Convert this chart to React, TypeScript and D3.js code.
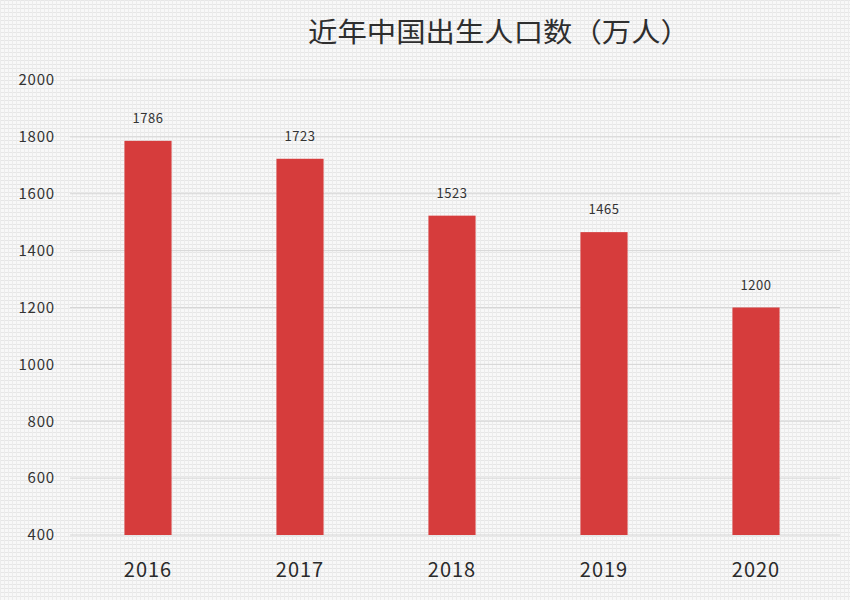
import React, { useEffect, useRef } from 'react';
import * as d3 from 'd3';

const years = ['2016', '2017', '2018', '2019', '2020'];
const births = [1786, 1723, 1523, 1465, 1200];
const yTicks = [400, 600, 800, 1000, 1200, 1400, 1600, 1800, 2000];
const title = '近年中国出生人口数（万人）';

const BirthChart = () => {
  const ref = useRef(null);

  useEffect(() => {
    if (!ref.current) return;
    const width = 850;
    const height = 600;

    const svg = d3.select(ref.current);
    svg.selectAll('*').remove();
    svg.attr('width', width).attr('height', height);

    // canvas-like paper texture
    const defs = svg.append('defs');
    const pat = defs.append('pattern')
      .attr('id', 'paper')
      .attr('width', 4)
      .attr('height', 4)
      .attr('patternUnits', 'userSpaceOnUse');
    pat.append('rect').attr('width', 4).attr('height', 4).attr('fill', '#f8f8f8');
    pat.append('path').attr('d', 'M0 0.5H4').attr('stroke', '#e6e6e6').attr('stroke-width', 1);
    pat.append('path').attr('d', 'M0.5 0V4').attr('stroke', '#ececec').attr('stroke-width', 1);

    svg.append('rect').attr('width', width).attr('height', height).attr('fill', 'url(#paper)');

    const x = d3.scaleBand()
      .domain(years)
      .range([72, 832])
      .paddingInner(0.69)
      .paddingOuter(0.345);

    const y = d3.scaleLinear().domain([400, 2000]).range([535, 80]);

    const font = '"Noto Sans CJK SC", "Noto Sans", sans-serif';

    // gridlines
    svg.append('g')
      .selectAll('line')
      .data(yTicks)
      .enter()
      .append('line')
      .attr('x1', 70)
      .attr('x2', 840)
      .attr('y1', d => y(d))
      .attr('y2', d => y(d))
      .attr('stroke', '#d6d6d6')
      .attr('stroke-width', 1);

    // y tick labels
    svg.append('g')
      .selectAll('text')
      .data(yTicks)
      .enter()
      .append('text')
      .attr('x', 55)
      .attr('y', d => y(d))
      .attr('dy', '0.35em')
      .attr('text-anchor', 'end')
      .attr('font-family', font)
      .attr('font-size', 15)
      .attr('letter-spacing', 0.8)
      .attr('fill', '#333')
      .text(d => d);

    const data = years.map((yr, i) => ({ year: yr, value: births[i] }));

    // bars
    svg.append('g')
      .selectAll('rect')
      .data(data)
      .enter()
      .append('rect')
      .attr('x', d => x(d.year))
      .attr('y', d => y(d.value))
      .attr('width', x.bandwidth())
      .attr('height', d => y(400) - y(d.value))
      .attr('fill', '#d63c3c');

    // value labels
    svg.append('g')
      .selectAll('text')
      .data(data)
      .enter()
      .append('text')
      .attr('x', d => x(d.year) + x.bandwidth() / 2)
      .attr('y', d => y(d.value) - 18)
      .attr('text-anchor', 'middle')
      .attr('font-family', font)
      .attr('font-size', 13)
      .attr('letter-spacing', 0.5)
      .attr('fill', '#333')
      .text(d => d.value);

    // x labels
    svg.append('g')
      .selectAll('text')
      .data(years)
      .enter()
      .append('text')
      .attr('x', d => x(d) + x.bandwidth() / 2)
      .attr('y', 577)
      .attr('text-anchor', 'middle')
      .attr('font-family', font)
      .attr('font-size', 20)
      .attr('letter-spacing', 1)
      .attr('fill', '#2a2a2a')
      .text(d => d);

    svg.append('text')
      .attr('x', 308)
      .attr('y', 42)
      .attr('font-family', font)
      .attr('font-size', 27)
      .attr('textLength', 382)
      .attr('lengthAdjust', 'spacingAndGlyphs')
      .attr('fill', '#2e2e2e')
      .text(title);
  }, []);

  return <svg ref={ref} style={{ position: 'absolute', left: 0, top: 0, display: 'block' }} />;
};

export default function App() {
  return <BirthChart />;
}
